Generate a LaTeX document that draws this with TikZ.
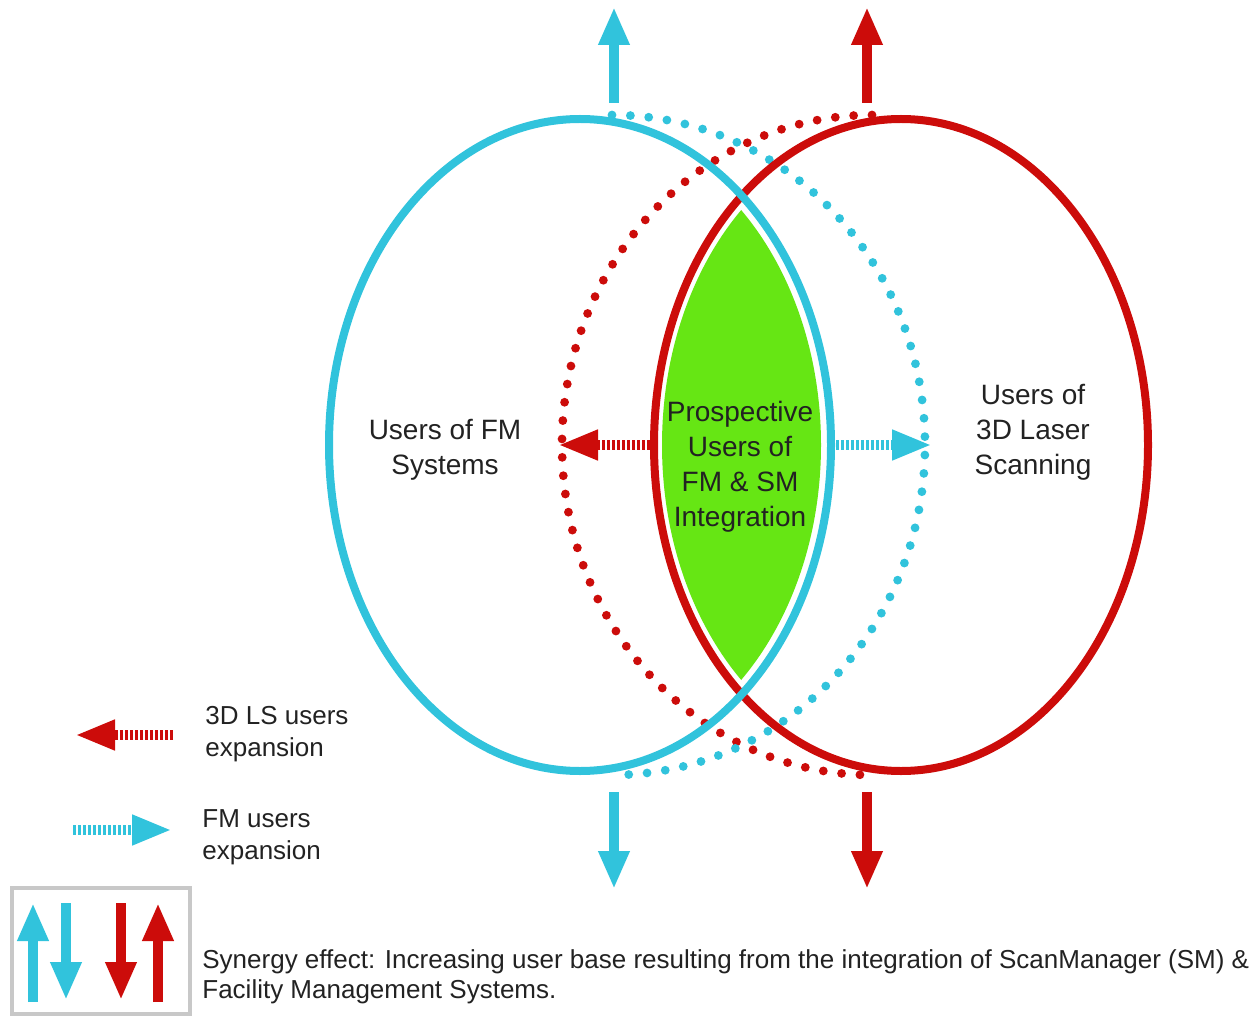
\documentclass[tikz,border=0pt]{standalone}
\usepackage{fontspec}
\setmainfont{Liberation Sans}
\usetikzlibrary{arrows.meta}
\definecolor{fmblue}{RGB}{49,195,220}
\definecolor{lsred}{RGB}{204,12,10}
\definecolor{lensgreen}{RGB}{102,230,20}
\definecolor{boxgray}{RGB}{200,200,200}
\definecolor{txt}{RGB}{34,34,34}

\begin{document}
\begin{tikzpicture}[x=0.5pt,y=0.5pt,
  bigarrow/.style={line width=5pt,-{Triangle[length=19pt,width=14.5pt]}},
  striped/.style={line width=5pt,dash pattern=on 1.6pt off 0.9pt,-{Triangle[length=20pt,width=14pt]}},
  dotring/.style={line width=4.4pt,line cap=round,dash pattern=on 0pt off 9.2pt}]

  \useasboundingbox (0,0) rectangle (1253,-1016);

  % expansion rings
  \draw[dotring,lsred] (872,-115) arc[start angle=90,end angle=270,x radius=155pt,y radius=165pt];
  \draw[dotring,fmblue] (612,-115) arc[start angle=90,end angle=-90,x radius=156.5pt,y radius=165pt];

  % user groups
  \draw[lsred,line width=4pt] (901,-445) ellipse[x radius=123.5pt,y radius=163pt];
  \draw[fmblue,line width=4pt] (580,-445) ellipse[x radius=125.5pt,y radius=163pt];

  % overlap
  \begin{scope}
    \clip (580,-445) ellipse[x radius=120.5pt,y radius=158pt];
    \fill[lensgreen] (901,-445) ellipse[x radius=119.5pt,y radius=158pt];
  \end{scope}

  \begin{scope}[every node/.style={align=center,text=txt,font=\fontsize{14}{17.5}\selectfont}]
    \node (fm)   at (445,-450)  {Users of FM\\Systems};
    \node (core) at (740,-467)  {Prospective\\Users of\\FM \& SM\\Integration};
    \node (ls)   at (1033,-432) {Users of\\3D Laser\\Scanning};
  \end{scope}

  \coordinate (up1a) at (614,-103);  \coordinate (up1b) at (614,-7);
  \coordinate (up2a) at (867,-103);  \coordinate (up2b) at (867,-7);
  \coordinate (dn1a) at (614,-792);  \coordinate (dn1b) at (614,-889);
  \coordinate (dn2a) at (867,-792);  \coordinate (dn2b) at (867,-889);
  \coordinate (lsa)  at (655,-445);  \coordinate (lsb)  at (558,-445);
  \coordinate (fma)  at (836,-445);  \coordinate (fmb)  at (932,-445);

  \draw[bigarrow,fmblue] (up1a) -- (up1b);
  \draw[bigarrow,lsred]  (up2a) -- (up2b);
  \draw[bigarrow,fmblue] (dn1a) -- (dn1b);
  \draw[bigarrow,lsred]  (dn2a) -- (dn2b);
  \draw[striped,lsred]   (lsa) -- (lsb);
  \draw[striped,fmblue]  (fma) -- (fmb);

  % legend
  \coordinate (k1a) at (173,-735);  \coordinate (k1b) at (75,-735);
  \coordinate (k2a) at (73,-830);   \coordinate (k2b) at (172,-830);
  \draw[striped,lsred]  (k1a) -- (k1b);
  \draw[striped,fmblue] (k2a) -- (k2b);

  \draw[boxgray,line width=2pt] (12,-888) rectangle (190,-1014);
  \coordinate (s1a) at (33,-1002);  \coordinate (s1b) at (33,-903);
  \coordinate (s2a) at (66,-903);   \coordinate (s2b) at (66,-1000);
  \coordinate (s3a) at (121,-903);  \coordinate (s3b) at (121,-1000);
  \coordinate (s4a) at (158,-1002); \coordinate (s4b) at (158,-903);
  \draw[bigarrow,fmblue] (s1a) -- (s1b);
  \draw[bigarrow,fmblue] (s2a) -- (s2b);
  \draw[bigarrow,lsred]  (s3a) -- (s3b);
  \draw[bigarrow,lsred]  (s4a) -- (s4b);

  \begin{scope}[every node/.style={align=left,anchor=west,text=txt,inner sep=0pt}]
    \node[font=\fontsize{13}{16}\selectfont] (key1) at (205,-734) {3D LS users\\expansion};
    \node[font=\fontsize{13}{16}\selectfont] (key2) at (202,-837) {FM users\\expansion};
    \node[font=\fontsize{13}{15}\selectfont] (syn) at (202,-977)
      {Synergy effect: Increasing user base resulting from the integration of ScanManager (SM) \&\\Facility Management Systems.};
  \end{scope}

\end{tikzpicture}
\end{document}
